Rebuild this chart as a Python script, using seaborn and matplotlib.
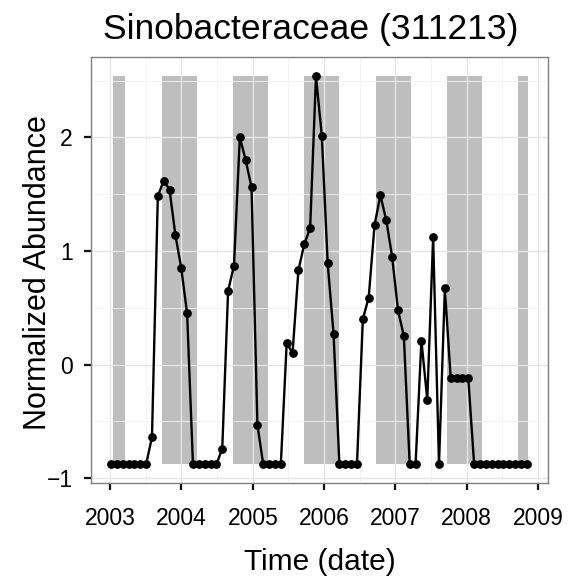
import pandas as pd
import numpy as np
import matplotlib
matplotlib.use('Agg')
import matplotlib.pyplot as plt
import seaborn as sns

# 月度采样的归一化丰度 (2003-01 ~ 2008-12)
abundance = [
    -0.88, -0.88, -0.88, -0.88, -0.88, -0.88, -0.88, -0.64, 1.48, 1.62, 1.54, 1.14,   # 2003
    0.85, 0.45, -0.88, -0.88, -0.88, -0.88, -0.88, -0.74, 0.65, 0.87, 2.00, 1.80,     # 2004
    1.56, -0.53, -0.88, -0.88, -0.88, -0.88, 0.19, 0.10, 0.83, 1.06, 1.20, 2.54,      # 2005
    2.01, 0.89, 0.27, -0.88, -0.88, -0.88, -0.88, 0.40, 0.59, 1.23, 1.49, 1.27,       # 2006
    0.95, 0.48, 0.25, -0.88, -0.88, 0.21, -0.31, 1.12, -0.88, 0.67, -0.12, -0.12,     # 2007
    -0.12, -0.12, -0.88, -0.88, -0.88, -0.88, -0.88, -0.88, -0.88, -0.88, -0.88, -0.88,  # 2008
]
first_date = '2003-01-05'
n_samples = len(abundance)

# 冬季区间 (灰色背景)
band_start = ['2003-01-15', '2003-09-22', '2004-09-22', '2005-09-22', '2006-09-22', '2007-09-22', '2008-09-22']
band_end = ['2003-03-20', '2004-03-20', '2005-03-20', '2006-03-20', '2007-03-20', '2008-03-20', '2008-11-12']

year_ticks = ['2003', '2004', '2005', '2006', '2007', '2008', '2009']
y_ticks = [-1, 0, 1, 2]

df = pd.DataFrame({'date': pd.date_range(first_date, periods=n_samples, freq='30D'),
                   'abundance': abundance})

sns.set_theme(style='white')
plt.rcParams['font.family'] = ['Liberation Sans', 'DejaVu Sans']
plt.rcParams['text.color'] = 'black'
plt.rcParams['axes.labelcolor'] = 'black'

fig, ax = plt.subplots(figsize=(5.69, 5.85), dpi=100)
fig.subplots_adjust(left=0.160, right=0.963, top=0.903, bottom=0.174)

ymin, ymax = min(abundance), max(abundance)
for s, e in zip(band_start, band_end):
    ax.fill_between([pd.Timestamp(s), pd.Timestamp(e)], ymin, ymax,
                    color='#bebebe', lw=0, zorder=0.3)

sns.lineplot(data=df, x='date', y='abundance', ax=ax, color='black',
             lw=1.7, marker='o', markersize=6.3, markeredgewidth=0, zorder=3)

ax.set_xlim(pd.Timestamp('2002-09-25'), pd.Timestamp('2009-02-20'))
ax.set_ylim(-1.045, 2.71)

ax.set_xticks([pd.Timestamp(y + '-01-01') for y in year_ticks])
ax.set_xticklabels(year_ticks)
ax.set_xticks([pd.Timestamp(y + '-07-02') for y in year_ticks[:-1]], minor=True)
ax.set_yticks(y_ticks)
ax.set_yticklabels(['\u22121', '0', '1', '2'])
ax.set_yticks([-0.5, 0.5, 1.5, 2.5], minor=True)

ax.set_axisbelow(True)
ax.grid(which='major', color='#e6e6e6', lw=1.0)
ax.grid(which='minor', color='#f3f3f3', lw=0.6)
for sp in ax.spines.values():
    sp.set_color('#808080')
    sp.set_linewidth(1.0)

ax.tick_params(which='major', direction='out', length=5, width=1.6, color='#111111',
               labelsize=16.5, labelcolor='black', bottom=True, left=True)
ax.tick_params(axis='x', which='major', pad=12)
ax.tick_params(axis='y', which='major', pad=8)
ax.tick_params(which='minor', length=0)

ax.set_xlabel('Time (date)', fontsize=21.5)
ax.set_ylabel('Normalized Abundance', fontsize=22)
ax.xaxis.set_label_coords(0.5, -0.152)
ax.yaxis.set_label_coords(-0.083, 0.493)
fig.text(0.5457, 1 - 39 / 585, 'Sinobacteraceae (311213)', fontsize=25.5,
         ha='center', va='baseline')

plt.savefig('out.png', dpi=100)
